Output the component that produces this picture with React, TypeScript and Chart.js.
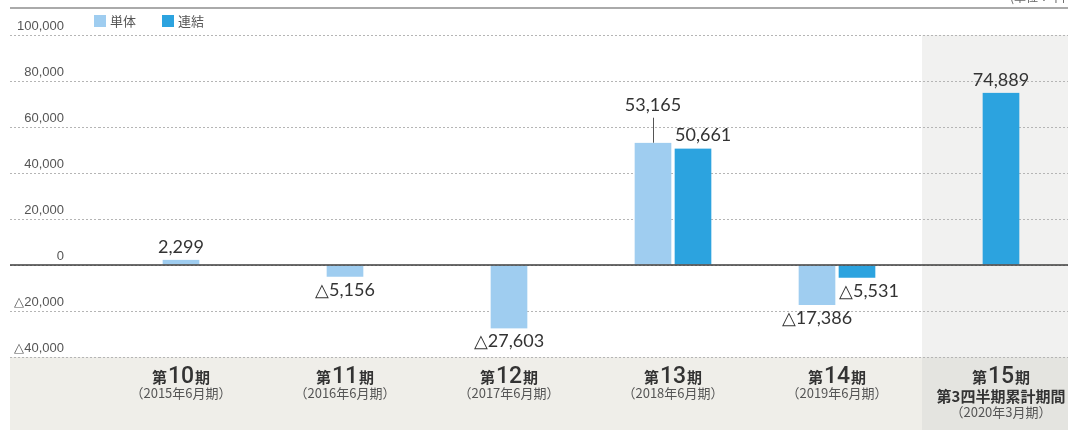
import React, { useEffect, useRef } from 'react';
import { Chart, registerables } from 'chart.js';

Chart.register(...registerables);

const periods = ['第10期', '第11期', '第12期', '第13期', '第14期', '第15期'];
const periodNotes = [
  ['（2015年6月期）'],
  ['（2016年6月期）'],
  ['（2017年6月期）'],
  ['（2018年6月期）'],
  ['（2019年6月期）'],
  ['第3四半期累計期間', '（2020年3月期）'],
];
const seriesNames = ['単体', '連結'];
const standaloneValues: (number | null)[] = [2299, -5156, -27603, 53165, -17386, null];
const consolidatedValues: (number | null)[] = [null, null, null, 50661, -5531, 74889];
const yMin = -40000;
const yMax = 100000;
const yStep = 20000;
const unitLabel = '(単位：千円)';
const highlightIndex = 5;

const seriesColors = ['#9fcdf0', '#2ca3df'];
const CJK = '"Noto Sans CJK JP", "Noto Sans", sans-serif';

function fmt(v: number): string {
  return (v < 0 ? '△' : '') + Math.abs(v).toLocaleString('en-US');
}

const decorPlugin = {
  id: 'decor',
  beforeDraw(chart: any) {
    const { ctx, chartArea, width } = chart;
    const xs = chart.scales.x;
    ctx.save();
    // bottom label band
    ctx.fillStyle = '#efeee9';
    ctx.fillRect(10, chartArea.bottom, width - 10, 430 - chartArea.bottom);
    // highlighted column
    const hx = xs.getPixelForValue(highlightIndex) - 79;
    ctx.fillStyle = '#f1f1f0';
    ctx.fillRect(hx, chartArea.top, width - hx, chartArea.bottom - chartArea.top);
    ctx.fillStyle = '#e4e4e0';
    ctx.fillRect(hx, chartArea.bottom, width - hx, 430 - chartArea.bottom);
    // header rule
    ctx.fillStyle = '#aaaaaa';
    ctx.fillRect(10, 7, width - 10, 2);
    // unit label (clipped at top)
    ctx.fillStyle = '#666';
    ctx.font = '12px ' + CJK;
    ctx.textAlign = 'right';
    ctx.textBaseline = 'alphabetic';
    ctx.fillText(unitLabel, 1078, 2);
    // legend
    const legendX = [94, 162];
    chart.data.datasets.forEach((ds: any, i: number) => {
      ctx.fillStyle = ds.backgroundColor;
      ctx.fillRect(legendX[i], 15, 12, 12);
      ctx.fillStyle = '#555';
      ctx.font = '13px ' + CJK;
      ctx.textAlign = 'left';
      ctx.textBaseline = 'middle';
      ctx.fillText(ds.label, legendX[i] + 16, 21);
    });
    ctx.restore();
  },
  afterDatasetsDraw(chart: any) {
    const { ctx, width } = chart;
    const xs = chart.scales.x;
    const ys = chart.scales.y;
    ctx.save();
    // zero line
    const y0 = ys.getPixelForValue(0);
    ctx.strokeStyle = '#3c3c3c';
    ctx.lineWidth = 1.5;
    ctx.beginPath();
    ctx.moveTo(10, y0);
    ctx.lineTo(width, y0);
    ctx.stroke();

    // value labels
    ctx.font = '18px Lato, "Noto Sans", sans-serif';
    ctx.fillStyle = '#333';
    ctx.textBaseline = 'middle';
    chart.data.datasets.forEach((ds: any, di: number) => {
      const meta = chart.getDatasetMeta(di);
      meta.data.forEach((el: any, i: number) => {
        const v = ds.data[i];
        if (v == null) return;
        const other = chart.data.datasets[1 - di].data[i];
        const paired = other != null;
        const { x, y, width: w } = el.getProps(['x', 'y', 'width'], true);
        let tx = x;
        let align: CanvasTextAlign = 'center';
        if (paired && di === 1) {
          tx = x - w / 2 + 2;
          align = 'left';
        }
        let ty: number;
        if (v >= 0) {
          ty = y - 13;
          if (paired && di === 0 && other >= 0) {
            ty = y - 38;
            ctx.strokeStyle = '#555';
            ctx.lineWidth = 1;
            ctx.beginPath();
            ctx.moveTo(Math.round(x) + 0.5, ty + 13);
            ctx.lineTo(Math.round(x) + 0.5, y);
            ctx.stroke();
          }
        } else {
          ty = y + 13;
        }
        ctx.textAlign = align;
        ctx.fillText(fmt(v), tx, ty);
      });
    });

    // category labels
    periods.forEach((label, i) => {
      const cx = xs.getPixelForValue(i);
      const m = label.match(/^(\D*)(\d+)(\D*)$/);
      const parts = m ? [m[1], m[2], m[3]] : [label, '', ''];
      const fonts = ['bold 15px ' + CJK, '500 23px Roboto, ' + CJK, 'bold 15px ' + CJK];
      const widths = parts.map((p, k) => {
        ctx.font = fonts[k];
        return ctx.measureText(p).width + (k === 1 ? 2 : 0);
      });
      let px = cx - widths.reduce((a, b) => a + b, 0) / 2;
      ctx.fillStyle = '#333';
      ctx.textAlign = 'left';
      ctx.textBaseline = 'alphabetic';
      parts.forEach((p, k) => {
        ctx.font = fonts[k];
        ctx.fillText(p, px + (k === 1 ? 1 : 0), 383);
        px += widths[k];
      });
      const notes = periodNotes[i];
      ctx.textAlign = 'center';
      ctx.textBaseline = 'middle';
      if (notes.length === 1) {
        ctx.font = '13px ' + CJK;
        ctx.fillStyle = '#555';
        ctx.fillText(notes[0], cx, 393);
      } else {
        ctx.font = 'bold 15px ' + CJK;
        ctx.fillStyle = '#333';
        ctx.fillText(notes[0], cx, 396);
        ctx.font = '13px ' + CJK;
        ctx.fillStyle = '#555';
        ctx.fillText(notes[1], cx, 412);
      }
    });
    ctx.restore();
  },
};

export default function App() {
  const ref = useRef<HTMLCanvasElement | null>(null);
  useEffect(() => {
    if (!ref.current) return;
    const barStyle = {
      borderColor: 'rgba(0,0,0,0)',
      borderWidth: { left: 2, right: 2, top: 0, bottom: 0 },
      borderSkipped: false,
      barThickness: 40,
      skipNull: true,
    };
    const chart = new Chart(ref.current, {
      type: 'bar',
      data: {
        labels: periods,
        datasets: [
          { label: seriesNames[0], data: standaloneValues, backgroundColor: seriesColors[0], ...barStyle } as any,
          { label: seriesNames[1], data: consolidatedValues, backgroundColor: seriesColors[1], ...barStyle } as any,
        ],
      },
      options: {
        responsive: false,
        animation: false,
        layout: { padding: { left: 10, top: 35, right: 0, bottom: 0 } },
        plugins: { legend: { display: false }, tooltip: { enabled: false } },
        scales: {
          x: {
            grid: { display: false },
            border: { display: false },
            ticks: { display: false },
            afterFit: (s: any) => {
              s.height = 77;
            },
          },
          y: {
            min: yMin,
            max: yMax,
            ticks: {
              stepSize: yStep,
              callback: (v: any) => fmt(Number(v)),
              font: { family: '"Liberation Sans Narrow", "Liberation Sans", sans-serif', size: 13 },
              color: '#555',
              padding: -54,
              labelOffset: -9,
              crossAlign: 'near',
            },
            grid: {
              color: '#b5b5b5',
              lineWidth: 1,
              tickLength: 89,
              tickColor: '#b5b5b5',
              tickBorderDash: [2, 2],
            },
            border: { display: false, dash: [2, 2] },
            afterFit: (s: any) => {
              s.width = 89;
            },
          },
        },
      } as any,
      plugins: [decorPlugin],
    });
    return () => chart.destroy();
  }, []);

  return (
    <div style={{ position: 'fixed', left: 0, top: 0, width: 1068, height: 434, overflow: 'hidden', background: '#fff' }}>
      <canvas ref={ref} width={1083} height={434} style={{ display: 'block' }} />
    </div>
  );
}
